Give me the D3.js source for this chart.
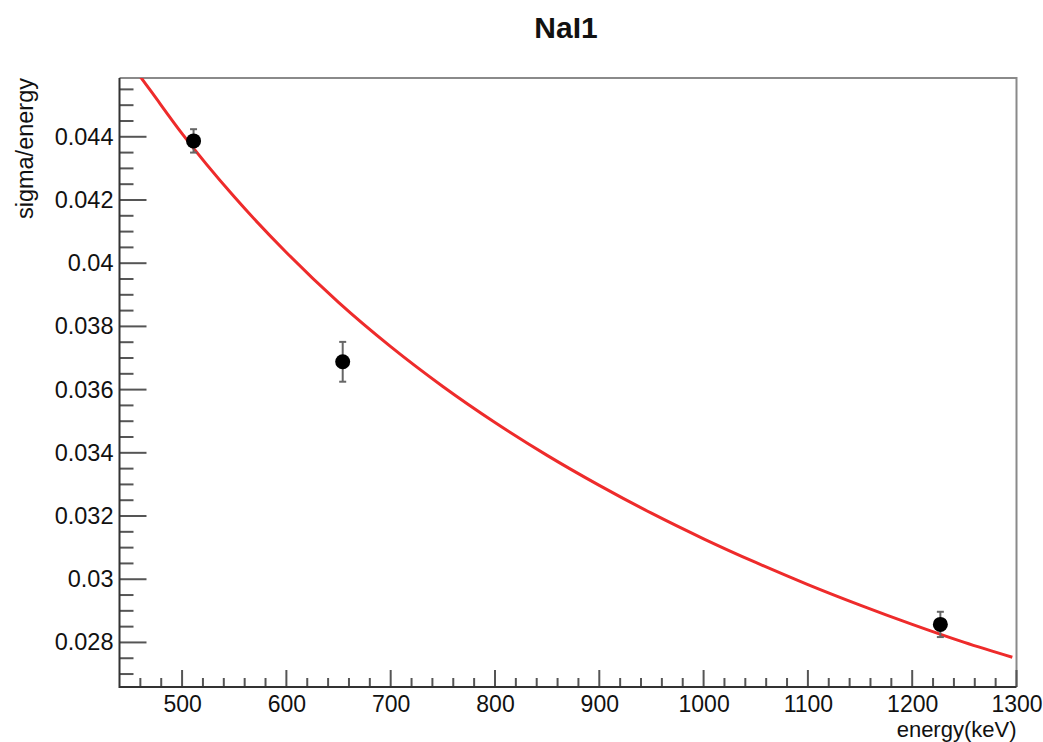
<!DOCTYPE html>
<html>
<head>
<meta charset="utf-8">
<script src="https://cdn.jsdelivr.net/npm/d3@7"></script>
<style>
  html, body { margin: 0; padding: 0; background: #fff; }
  svg { display: block; font-family: "Liberation Sans", Arial, Helvetica, sans-serif; }
</style>
</head>
<body>
<svg id="chart" width="1043" height="742"></svg>
<script>
// Measured resolution points (energy in keV, sigma/energy, error)
const energies = [511, 654, 1227];
const resolution = [0.04387, 0.03688, 0.02857];
const resolutionErr = [0.00037, 0.00063, 0.0004];

// Fitted resolution curve, sampled along energy
const fitEnergy = [460, 470, 500, 550, 600, 650, 700, 750, 800, 850, 900, 950, 1000, 1050, 1100, 1150, 1200, 1250, 1296];
const fitValue = [0.04590, 0.04545, 0.04410, 0.04210, 0.04034, 0.03876, 0.03736, 0.03610, 0.03496, 0.03392, 0.03297, 0.03209, 0.03128, 0.03053, 0.02983, 0.02918, 0.02857, 0.02800, 0.02753];

// Axis ticks
const xMajorTicks = [500, 600, 700, 800, 900, 1000, 1100, 1200, 1300];
const yMajorTicks = [0.028, 0.030, 0.032, 0.034, 0.036, 0.038, 0.040, 0.042, 0.044];

const titleText = "NaI1";
const xTitle = "energy(keV)";
const yTitle = "sigma/energy";

const frame = { left: 119.5, right: 1016.5, top: 78, bottom: 687 };
const svg = d3.select("#chart");

const x = d3.scaleLinear().domain([440, 1300]).range([frame.left, frame.right]);
const y = d3.scaleLinear().domain([0.02659, 0.04586]).range([frame.bottom, frame.top]);

// minor ticks
const xMinor = d3.range(460, 1300, 20).filter(v => v % 100 !== 0);
const yMinor = d3.range(270, 459, 5).map(v => v / 10000).filter(v => Math.round(v * 10000) % 20 !== 0);

// Title
svg.append("text")
  .attr("x", 566).attr("y", 38)
  .attr("text-anchor", "middle")
  .attr("font-size", 30).attr("font-weight", "bold")
  .attr("fill", "#111")
  .text(titleText);

// Frame top and right
svg.append("path")
  .attr("d", `M${frame.left},${frame.top}H${frame.right}V${frame.bottom}`)
  .attr("fill", "none").attr("stroke", "#8a8a8a").attr("stroke-width", 2);

// Clip region for the curve
svg.append("clipPath").attr("id", "frameClip")
  .append("rect")
  .attr("x", frame.left).attr("y", frame.top)
  .attr("width", frame.right - frame.left).attr("height", frame.bottom - frame.top);

// Bottom axis with upward ticks
const xAxis = d3.axisBottom(x).tickValues(xMajorTicks).tickSize(0).tickPadding(0).tickFormat(d3.format("d"));
const gx = svg.append("g").attr("transform", `translate(0,${frame.bottom})`).call(xAxis);
gx.select(".domain").remove();
gx.selectAll("text").attr("font-size", 23).attr("fill", "#111").attr("dy", null).attr("y", 25);

svg.append("g").selectAll("line.xmaj").data(xMajorTicks).join("line")
  .attr("x1", d => x(d)).attr("x2", d => x(d))
  .attr("y1", frame.bottom).attr("y2", frame.bottom - 17)
  .attr("stroke", "#555").attr("stroke-width", 2);
svg.append("g").selectAll("line.xmin").data(xMinor).join("line")
  .attr("x1", d => x(d)).attr("x2", d => x(d))
  .attr("y1", frame.bottom).attr("y2", frame.bottom - 9)
  .attr("stroke", "#555").attr("stroke-width", 2);

// Left axis with inward ticks
const yAxis = d3.axisLeft(y).tickValues(yMajorTicks).tickSize(0).tickPadding(6)
  .tickFormat(d => d3.format("~g")(+d.toFixed(4)));
const gy = svg.append("g").attr("transform", `translate(${frame.left},0)`).call(yAxis);
gy.select(".domain").remove();
gy.selectAll("text").attr("font-size", 23.5).attr("fill", "#111").attr("x", -6);

svg.append("g").selectAll("line").data(yMajorTicks).join("line")
  .attr("x1", frame.left).attr("x2", frame.left + 27)
  .attr("y1", d => y(d)).attr("y2", d => y(d))
  .attr("stroke", "#555").attr("stroke-width", 2);
svg.append("g").selectAll("line").data(yMinor).join("line")
  .attr("x1", frame.left).attr("x2", frame.left + 14)
  .attr("y1", d => y(d)).attr("y2", d => y(d))
  .attr("stroke", "#555").attr("stroke-width", 2);

// Axis lines
svg.append("path")
  .attr("d", `M${frame.left},${frame.top}V${frame.bottom}H${frame.right}`)
  .attr("fill", "none").attr("stroke", "#333").attr("stroke-width", 2);

// Axis titles
svg.append("text")
  .attr("x", frame.right).attr("y", 737)
  .attr("text-anchor", "end").attr("font-size", 22).attr("fill", "#111")
  .text(xTitle);
svg.append("text")
  .attr("transform", `translate(33,${frame.top}) rotate(-90)`)
  .attr("text-anchor", "end").attr("font-size", 23.5).attr("fill", "#111")
  .text(yTitle);

// Fit curve
const fitPts = fitEnergy.map((e, i) => [e, fitValue[i]]);
svg.append("path")
  .datum(fitPts)
  .attr("clip-path", "url(#frameClip)")
  .attr("d", d3.line().x(d => x(d[0])).y(d => y(d[1])).curve(d3.curveMonotoneX))
  .attr("fill", "none").attr("stroke", "#ee2b2b").attr("stroke-width", 3);

// Data points with error bars
const pts = energies.map((e, i) => ({ e, v: resolution[i], err: resolutionErr[i] }));
const gp = svg.append("g");
gp.selectAll("line.bar").data(pts).join("line")
  .attr("x1", d => x(d.e)).attr("x2", d => x(d.e))
  .attr("y1", d => y(d.v + d.err)).attr("y2", d => y(d.v - d.err))
  .attr("stroke", "#666").attr("stroke-width", 2);
gp.selectAll("line.capTop").data(pts).join("line")
  .attr("x1", d => x(d.e) - 3.5).attr("x2", d => x(d.e) + 3.5)
  .attr("y1", d => y(d.v + d.err)).attr("y2", d => y(d.v + d.err))
  .attr("stroke", "#666").attr("stroke-width", 2);
gp.selectAll("line.capBot").data(pts).join("line")
  .attr("x1", d => x(d.e) - 3.5).attr("x2", d => x(d.e) + 3.5)
  .attr("y1", d => y(d.v - d.err)).attr("y2", d => y(d.v - d.err))
  .attr("stroke", "#666").attr("stroke-width", 2);
gp.selectAll("circle").data(pts).join("circle")
  .attr("cx", d => x(d.e)).attr("cy", d => y(d.v)).attr("r", 7.5)
  .attr("fill", "#000");
</script>
</body>
</html>
